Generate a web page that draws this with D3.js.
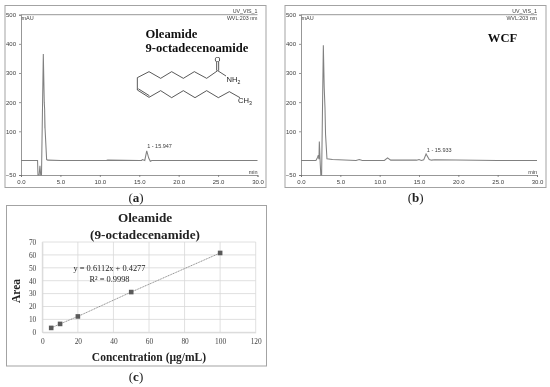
<!DOCTYPE html>
<html><head><meta charset="utf-8">
<script src="https://cdn.jsdelivr.net/npm/d3@7"></script>
<style>html,body{margin:0;padding:0;background:#fff}svg{display:block}text{font-family:"Liberation Sans",Arial,sans-serif}</style>
</head><body><svg id="c" width="550" height="387"></svg>
<script>
// Chromatogram (a)
const timeA=[0,2.1,2.15,2.3,2.4,2.5,2.6,2.83,2.95,3.0,3.03,3.0,3.05,3.25,3.4,5,8,10.8,11,15,15.3,15.4,15.7,15.95,16.2,16.4,16.6,20,30];
const mauA=[0,0,-50,-50,-18,-50,-50,365,200,175,110,170,110,3,1,0,0,0,1,0,0,3,0,33,8,-3,0,0,0];
// Chromatogram (b)
const timeB=[0,1.9,2.1,2.2,2.28,2.33,2.45,2.52,2.62,2.84,2.95,3.05,3.12,3.3,4,7,7.4,7.8,10.6,11,11.4,14.7,15,15.3,15.6,15.9,16.3,16.6,17,25,30];
const mauB=[0,0,10,18,4,65,-15,-50,-50,395,250,180,90,6,3,0,3,0,0,9,1,1,3,0,2,22,3,1,2,0,0];
const peakTimes=["1 - 15.947","1 - 15.933"];
const xTicks=[0,5,10,15,20,25,30];
const yTicks=[-50,100,200,300,400,500];
// Calibration (c)
const conc=[5,10,20,50,100];
const area=[3.4,6.5,12.3,31.2,61.5];
const cXTicks=[0,20,40,60,80,100,120];
const cYTicks=[0,10,20,30,40,50,60,70];
// Oleamide skeleton, drawn in its own unit space
const chainX=[653,620,583,550,515,482,447,412,412,447,482,515,550,585,620,655,688,720];
const chainY=[212,235,215,235,215,235,215,233,270,292,272,293,272,293,272,293,275,293];

const svg=d3.select("#c");
const soft=svg.append("defs").append("filter").attr("id","soft").attr("x","-5%").attr("y","-5%").attr("width","110%").attr("height","110%");
soft.append("feGaussianBlur").attr("stdDeviation",0.35);
const root=svg.append("g").attr("filter","url(#soft)");
const frame="#a3a3a3",lab="#3c3c3c",trace="#808080";

function chrom(x0,x1,time,mau,label,labelAnchor,tag,tagX){
  const fx=x0-16, fw=261;
  root.append("rect").attr("x",fx).attr("y",5.5).attr("width",fw).attr("height",182).attr("fill","#fff").attr("stroke",frame).attr("stroke-width",1);
  const x=d3.scaleLinear().domain([0,30]).range([x0,x1]);
  const y=d3.scaleLinear().domain([-50,500]).range([175,14.7]);
  const g=root.append("g");
  const ax=d3.axisBottom(x).tickValues(xTicks).tickFormat(d3.format(".1f")).tickSize(2);
  const gx=g.append("g").attr("transform","translate(0,175)").call(ax);
  const ay=d3.axisLeft(y).tickValues(yTicks).tickFormat(d3.format("d")).tickSize(2);
  const gy=g.append("g").attr("transform",`translate(${x0},0)`).call(ay);
  [gx,gy].forEach(a=>{a.selectAll("path,line").attr("stroke","#6a6a6a").attr("stroke-width",0.7);
    a.selectAll("text").attr("fill",lab).style("font-size","6px").style("font-family","Liberation Sans");});
  gx.selectAll("text").attr("dy","0.6em");
  g.append("line").attr("x1",x0).attr("x2",x1).attr("y1",14.7).attr("y2",14.7).attr("stroke","#6a6a6a").attr("stroke-width",0.7);
  const line=d3.line().x((d,i)=>x(time[i])).y(d=>y(d));
  g.append("path").datum(mau).attr("d",line).attr("fill","none").attr("stroke",trace).attr("stroke-width",1.05);
  g.append("text").attr("x",x0+0.5).attr("y",20).attr("fill",lab).style("font-size","5.5px").text("mAU");
  g.append("text").attr("x",x1).attr("y",13).attr("text-anchor","end").attr("fill",lab).style("font-size","5.3px").text("UV_VIS_1");
  g.append("text").attr("x",x1).attr("y",20).attr("text-anchor","end").attr("fill",lab).style("font-size","5.3px").text("WVL:203 nm");
  g.append("text").attr("x",x1).attr("y",174).attr("text-anchor","end").attr("fill",lab).style("font-size","5.5px").text("min");
  g.append("text").attr("x",x(labelAnchor[0])).attr("y",y(labelAnchor[1])).attr("fill",lab).style("font-size","5.5px").text(label);
  root.append("text").attr("x",tagX).attr("y",201.5).attr("text-anchor","middle").attr("fill","#222")
    .style("font-family","Liberation Serif").style("font-size","13px").html(tag);
}
chrom(21,257.5,timeA,mauA,peakTimes[0],[16,41],'(<tspan font-weight="bold">a</tspan>)',136);
chrom(301,537,timeB,mauB,peakTimes[1],[16,28],'(<tspan font-weight="bold">b</tspan>)',415.7);

// titles on the chromatograms
const serif=(s,x,y,size,anchor)=>root.append("text").attr("x",x).attr("y",y).attr("text-anchor",anchor||"start")
  .attr("fill","#111").style("font-family","Liberation Serif").style("font-weight","bold").style("font-size",size+"px").text(s);
serif("Oleamide",145.5,37.5,12.6);
serif("9-octadecenoamide",145.5,51.5,12.6);
serif("WCF",502.5,41.5,12.6,"middle");

// molecule
const mx=d3.scaleLinear().domain([0,300]).range([0,100]);
const my=d3.scaleLinear().domain([0,300]).range([0,100]);
const mol=root.append("g");
const bond=(a,b,c,d)=>mol.append("line").attr("x1",a).attr("y1",b).attr("x2",c).attr("y2",d).attr("stroke","#222").attr("stroke-width",0.75);
mol.append("path").datum(chainY).attr("fill","none").attr("stroke","#222").attr("stroke-width",0.75)
  .attr("d",d3.line().x((d,i)=>mx(chainX[i])).y(d=>my(d)));
// second stroke of the C=C and C=O bonds
bond(mx(chainX[8])+1,my(chainY[8])-1.2,mx(chainX[9])+0.4,my(chainY[9])-1.6);
bond(mx(chainX[0])-1,my(chainY[0]),mx(chainX[0])-1,my(186));
bond(mx(chainX[0])+1,my(chainY[0]),mx(chainX[0])+1,my(186));
bond(mx(chainX[0]),my(chainY[0]),mx(678),my(228));
const chem=(s,sub,x,y)=>{const t=mol.append("text").attr("x",x).attr("y",y).attr("fill","#222").style("font-size","7.6px").text(s);
  if(sub)t.append("tspan").attr("dy",1.8).style("font-size","5.2px").text(sub);};
chem("O",null,214.6,61.5);
chem("NH","2",226.5,82);
chem("CH","3",238,103);

// Calibration panel
root.append("rect").attr("x",6.5).attr("y",205.5).attr("width",260).attr("height",160.5).attr("fill","#fff").attr("stroke",frame).attr("stroke-width",1);
const cx=d3.scaleLinear().domain([0,120]).range([42.3,255.7]);
const cy=d3.scaleLinear().domain([0,70]).range([332.3,242]);
const cg=root.append("g");
cg.selectAll(".gy").data(cYTicks).join("line").attr("x1",cx(0)).attr("x2",cx(120)).attr("y1",d=>cy(d)).attr("y2",d=>cy(d)).attr("stroke","#d8d8d8").attr("stroke-width",0.8);
cg.selectAll(".gx").data(cXTicks).join("line").attr("y1",cy(0)).attr("y2",cy(70)).attr("x1",d=>cx(d)).attr("x2",d=>cx(d)).attr("stroke","#d8d8d8").attr("stroke-width",0.8);
const cax=cg.append("g").attr("transform","translate(0,332.3)").call(d3.axisBottom(cx).tickValues(cXTicks).tickSize(0).tickPadding(6));
const cay=cg.append("g").attr("transform","translate(42.3,0)").call(d3.axisLeft(cy).tickValues(cYTicks).tickSize(0).tickPadding(6));
[cax,cay].forEach(a=>{a.select("path").attr("stroke","#d8d8d8");a.selectAll("text").attr("fill","#444").style("font-family","Liberation Serif").style("font-size","7.4px");});
cg.append("path").datum(area).attr("fill","none").attr("stroke","#777").attr("stroke-width",0.8).attr("stroke-dasharray","1.2 0.6")
  .attr("d",d3.line().x((d,i)=>cx(conc[i])).y(d=>cy(d)));
cg.selectAll(".pt").data(area).join("rect").attr("x",(d,i)=>cx(conc[i])-2.3).attr("y",d=>cy(d)-2.3).attr("width",4.6).attr("height",4.6).attr("fill","#5a5a5a");
const ct=(s,x,y,size,w,fill)=>root.append("text").attr("x",x).attr("y",y).attr("text-anchor","middle").attr("fill",fill||"#222")
  .style("font-family","Liberation Serif").style("font-weight",w||"bold").style("font-size",size+"px").text(s);
ct("Oleamide",145,221.5,13.2);
ct("(9-octadecenamide)",145,239,13.2);
ct("y = 0.6112x + 0.4277",109.5,271,8.4,"normal");
ct("R² = 0.9998",109.5,282,8.4,"normal");
ct("Concentration (µg/mL)",149,361,11.5);
root.append("text").attr("transform","translate(20,291) rotate(-90)").attr("text-anchor","middle").attr("fill","#222")
  .style("font-family","Liberation Serif").style("font-weight","bold").style("font-size","11.5px").text("Area");
root.append("text").attr("x",136).attr("y",381).attr("text-anchor","middle").attr("fill","#222")
  .style("font-family","Liberation Serif").style("font-size","13px").html('(<tspan font-weight="bold">c</tspan>)');
</script></body></html>
